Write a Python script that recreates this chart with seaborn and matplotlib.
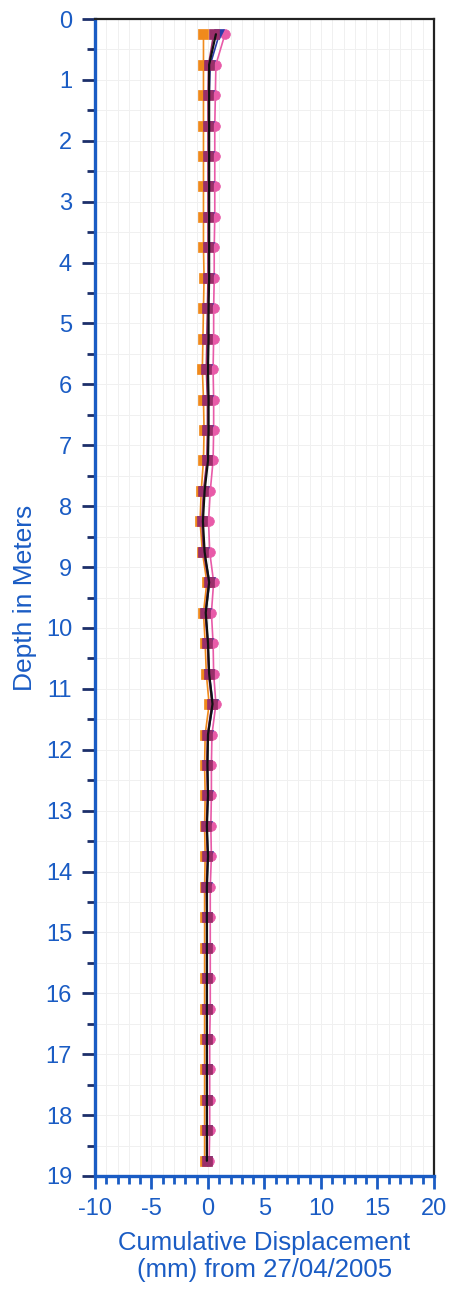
import numpy as np
import pandas as pd
import matplotlib
matplotlib.use("Agg")
import matplotlib.pyplot as plt
import seaborn as sns
from matplotlib.ticker import MultipleLocator

depths = [0.25, 0.75, 1.25, 1.75, 2.25, 2.75, 3.25, 3.75, 4.25, 4.75,
          5.25, 5.75, 6.25, 6.75, 7.25, 7.75, 8.25, 8.75, 9.25, 9.75,
          10.25, 10.75, 11.25, 11.75, 12.25, 12.75, 13.25, 13.75, 14.25, 14.75,
          15.25, 15.75, 16.25, 16.75, 17.25, 17.75, 18.25, 18.75]

orange = [-0.4, -0.4, -0.4, -0.4, -0.4, -0.4, -0.4, -0.4, -0.35, -0.4,
          -0.45, -0.5, -0.4, -0.35, -0.4, -0.6, -0.7, -0.5, -0.1, -0.4,
          -0.25, -0.15, 0.1, -0.25, -0.3, -0.25, -0.3, -0.25, -0.3, -0.3,
          -0.3, -0.3, -0.3, -0.3, -0.3, -0.3, -0.3, -0.3]
pink = [1.5, 0.7, 0.65, 0.6, 0.6, 0.6, 0.6, 0.55, 0.55, 0.5,
        0.5, 0.45, 0.5, 0.5, 0.45, 0.2, 0.05, 0.15, 0.5, 0.3,
        0.45, 0.5, 0.7, 0.35, 0.3, 0.3, 0.25, 0.3, 0.2, 0.2,
        0.2, 0.2, 0.2, 0.15, 0.15, 0.15, 0.15, 0.1]
blue = [1.0, 0.2, 0.1, 0.1, 0.1, 0.1, 0.1, 0.05, 0.05, 0.0,
        -0.05, -0.1, 0.0, 0.0, -0.05, -0.35, -0.5, -0.35, 0.15, -0.2,
        0.0, 0.1, 0.45, 0.0, -0.05, 0.0, -0.1, 0.0, -0.1, -0.1,
        -0.1, -0.1, -0.1, -0.1, -0.1, -0.1, -0.1, -0.1]
purple = [0.5, 0.05, 0.0, 0.0, 0.0, 0.0, 0.0, 0.0, 0.0, -0.05,
          -0.1, -0.15, -0.05, -0.05, -0.1, -0.4, -0.55, -0.4, 0.05, -0.25,
          -0.05, 0.05, 0.35, -0.05, -0.1, -0.05, -0.15, -0.05, -0.15, -0.1,
          -0.1, -0.1, -0.1, -0.1, -0.1, -0.1, -0.1, -0.1]
black = [0.7, 0.1, 0.1, 0.1, 0.1, 0.1, 0.1, 0.1, 0.1, 0.05,
         0.05, 0.0, 0.05, 0.05, 0.0, -0.3, -0.45, -0.3, 0.1, -0.2,
         0.0, 0.1, 0.4, 0.0, -0.05, 0.0, -0.1, 0.0, -0.1, -0.1,
         -0.1, -0.1, -0.1, -0.1, -0.1, -0.1, -0.1, -0.1]

series_names = ["orange", "pink", "blue", "purple", "black"]
series_vals = [orange, pink, blue, purple, black]
colors = {"orange": "#f08a1c", "pink": "#e85aa8", "blue": "#2a3aa8",
          "purple": "#9a2f6a", "black": "#111111"}
markers = {"orange": "s", "pink": "o", "blue": "v", "purple": "s", "black": ""}

rows = []
for name, vals in zip(series_names, series_vals):
    for d, v in zip(depths, vals):
        rows.append({"series": name, "depth": d, "disp": v})
df = pd.DataFrame(rows)

sns.set_theme(style="white")
plt.rcParams['font.family'] = ['Liberation Sans', 'DejaVu Sans']
plt.rcParams['axes.unicode_minus'] = False

fig = plt.figure(figsize=(4.52, 12.9), dpi=100)
ax = fig.add_axes([95/452, 1 - 1176/1290, (434-95)/452, (1176-19)/1290])

for name in series_names:
    sub = df[df.series == name]
    sns.lineplot(data=sub, x="disp", y="depth", sort=False, estimator=None,
                 color=colors[name], marker=markers[name] if markers[name] else None,
                 markersize=7 if name != "black" else 0,
                 markeredgewidth=0.5, markeredgecolor=colors[name],
                 linewidth=1.6 if name == "black" else 1.2, ax=ax, legend=False)

ax.set_xlim(-10, 20)
ax.set_ylim(19, 0)
blue_txt = "#1a5cc4"
ax.xaxis.set_major_locator(MultipleLocator(5))
ax.xaxis.set_minor_locator(MultipleLocator(1))
ax.yaxis.set_major_locator(MultipleLocator(1))
ax.yaxis.set_minor_locator(MultipleLocator(0.5))
ax.grid(True, which="both", color="#f0f0f0", linewidth=0.7)
ax.set_axisbelow(True)

ax.tick_params(axis="y", which="major", direction="out", length=9.5, width=2,
               color="#1c2f6a", labelsize=17, labelcolor=blue_txt, pad=7)
ax.tick_params(axis="y", which="minor", direction="out", length=6, width=2,
               color="#1c2f6a")
ax.tick_params(axis="x", which="major", direction="out", length=9.5, width=2,
               color=blue_txt, labelsize=17, labelcolor=blue_txt, pad=6)
ax.tick_params(axis="x", which="minor", direction="out", length=6, width=2,
               color=blue_txt)
ax.xaxis.set_ticks_position("bottom")
ax.yaxis.set_ticks_position("left")

for side in ["left", "bottom"]:
    ax.spines[side].set_color(blue_txt)
    ax.spines[side].set_linewidth(2.4)
for side in ["top", "right"]:
    ax.spines[side].set_color("#222222")
    ax.spines[side].set_linewidth(1.6)

ax.set_ylabel("Depth in Meters", color=blue_txt, fontsize=19, labelpad=6)
ax.set_xlabel("Cumulative Displacement\n(mm) from 27/04/2005", color=blue_txt,
              fontsize=18.5, labelpad=8, linespacing=1.2)

fig.savefig("out.png", dpi=100)
